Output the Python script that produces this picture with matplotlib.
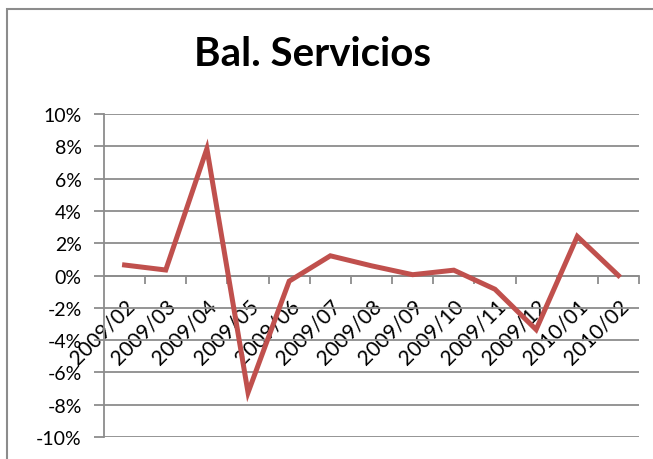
import matplotlib.pyplot as plt
from matplotlib.ticker import FuncFormatter, FixedLocator
from matplotlib.patches import Rectangle

months = ['2009/02', '2009/03', '2009/04', '2009/05', '2009/06', '2009/07', '2009/08',
          '2009/09', '2009/10', '2009/11', '2009/12', '2010/01', '2010/02']
bal_servicios = [0.65, 0.34, 7.85, -7.25, -0.35, 1.22, 0.6, 0.05, 0.33, -0.85, -3.35, 2.42, 0.0]

plt.rcParams['font.family'] = ['Lato', 'DejaVu Sans']

fig = plt.figure(figsize=(6.53, 4.60), dpi=100)
# chart frame (only left/top show in the crop)
fig.patches.append(Rectangle((7/653, -0.1), 1.2, 1 - 10/460 + 0.1, transform=fig.transFigure,
                             fill=False, edgecolor='#8c8c8c', linewidth=1.5))

ax = fig.add_axes([104/653, 1 - 438/460, (639 - 104)/653, (438 - 115)/460])
x = list(range(len(months)))
ax.plot(x, bal_servicios, color='#c0504d', linewidth=3.6, solid_joinstyle='miter', zorder=3)

ax.set_xlim(-0.5, len(months) - 0.5)
ax.set_ylim(-10, 10)
ax.set_yticks(range(-10, 11, 2))
ax.yaxis.set_major_formatter(FuncFormatter(lambda v, p: '{:d}%'.format(int(v))))
ax.yaxis.grid(True, color='#8c8c8c', linewidth=1.3)
ax.set_axisbelow(True)

for s in ['top', 'right']:
    ax.spines[s].set_visible(False)
ax.spines['left'].set_color('#8c8c8c')
ax.spines['left'].set_linewidth(1.3)
ax.spines['bottom'].set_position(('data', 0))
ax.spines['bottom'].set_color('#8c8c8c')
ax.spines['bottom'].set_linewidth(1.3)

# ticks between categories, labels at category centres
ax.xaxis.set_major_locator(FixedLocator([i + 0.5 for i in x]))
ax.xaxis.set_major_formatter(plt.NullFormatter())
ax.xaxis.set_minor_locator(FixedLocator(x))
ax.xaxis.set_minor_formatter(plt.FixedFormatter(months))
ax.tick_params(axis='x', which='major', length=6, width=1.3, color='#8c8c8c', direction='out')
ax.tick_params(axis='x', which='minor', length=0, pad=14, labelsize=15)
ax.tick_params(axis='y', length=7, width=1.3, color='#8c8c8c', labelsize=14, pad=9)
for lbl in ax.get_xticklabels(minor=True):
    lbl.set_rotation(45)
    lbl.set_ha('right')
    lbl.set_rotation_mode('anchor')

fig.text(313/653, 1 - 55/460, 'Bal. Servicios', ha='center', va='center',
         fontsize=29, fontweight='bold')

plt.savefig('out.png', dpi=100)
